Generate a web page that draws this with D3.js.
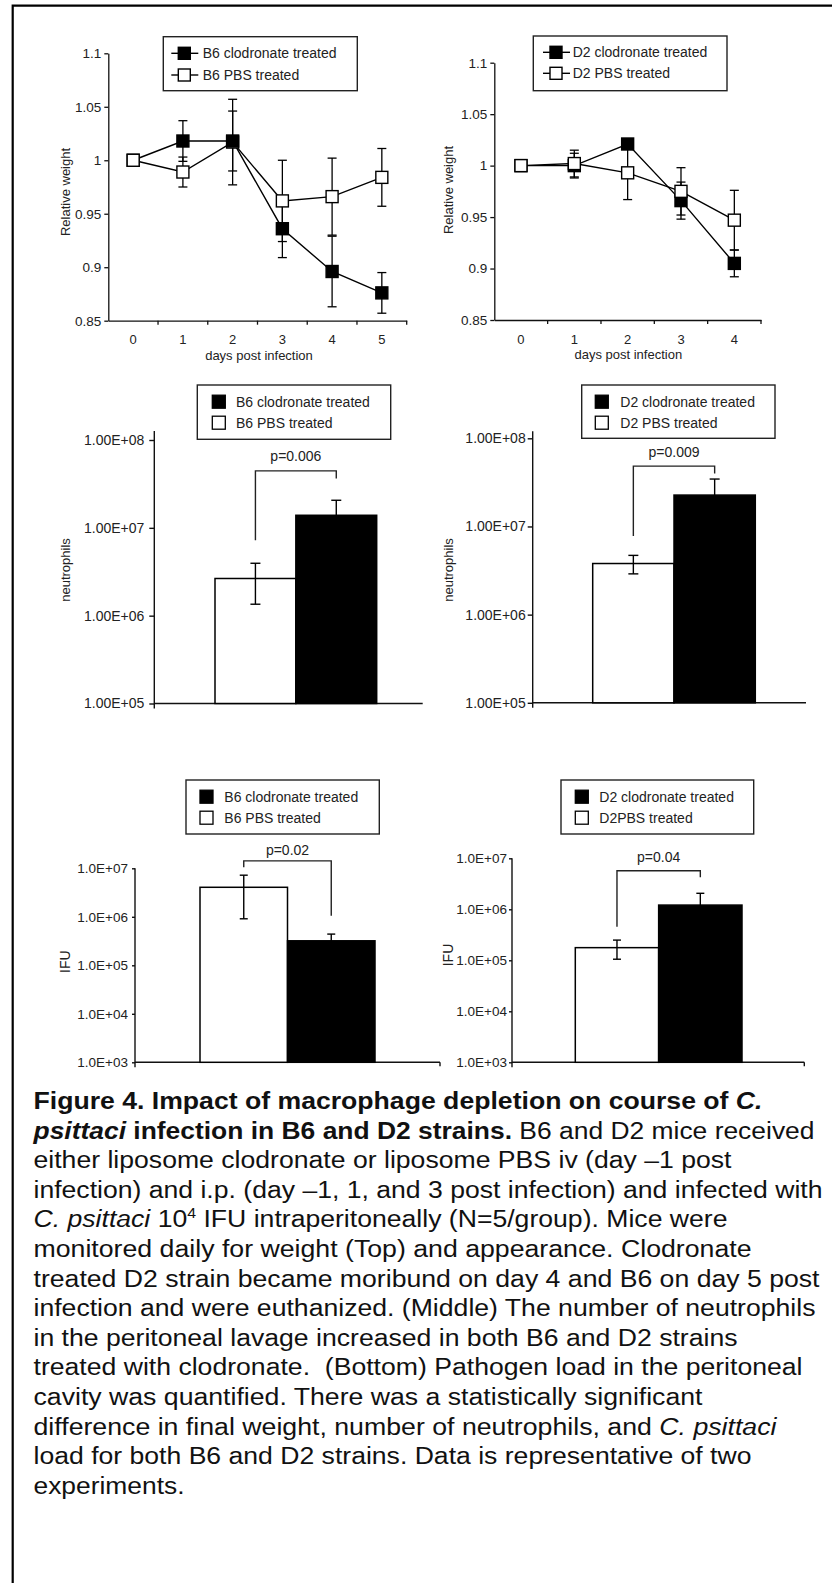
<!DOCTYPE html>
<html><head><meta charset="utf-8">
<script src="https://cdn.jsdelivr.net/npm/d3@7"></script>
<style>
html,body{margin:0;padding:0;background:#fff;}
svg{display:block;}
text{font-family:"Liberation Sans",Arial,Helvetica,sans-serif;}
</style></head><body>
<svg id="fig" width="832" height="1583"></svg>
<script>
// ---------------- DATA ----------------
const b6Days = [0, 1, 2, 3, 4, 5];
const b6ClodWeight = [1.000, 1.018, 1.018, 0.936, 0.896, 0.876];
const b6ClodErr    = [0, 0.019, 0.028, 0.027, 0.033, 0.019];
const b6PbsWeight  = [1.000, 0.989, 1.017, 0.962, 0.966, 0.984];
const b6PbsErr     = [0, 0.014, 0.040, 0.038, 0.036, 0.027];

const d2Days = [0, 1, 2, 3, 4];
const d2ClodWeight = [1.000, 1.000, 1.021, 0.966, 0.905];
const d2ClodErr    = [0, 0.012, 0.005, 0.018, 0.013];
const d2PbsWeight  = [1.000, 1.002, 0.993, 0.975, 0.947];
const d2PbsErr     = [0, 0.013, 0.026, 0.023, 0.029];

const weightTicks = [0.85, 0.9, 0.95, 1, 1.05, 1.1];
const weightTickLabels = ["0.85", "0.9", "0.95", "1", "1.05", "1.1"];

const barGroups = ["PBS", "clodronate"];
const b6Neutrophils    = [2.65e6, 1.39e7];
const b6NeutrophilsErr = [1.3e6, 0.67e7];
const d2Neutrophils    = [3.8e6, 2.27e7];
const d2NeutrophilsErr = [0.9e6, 1.18e7];
const neutTicks = [1e5, 1e6, 1e7, 1e8];
const neutTickLabels = ["1.00E+05", "1.00E+06", "1.00E+07", "1.00E+08"];

const b6IFU    = [4.06e6, 3.2e5];
const b6IFUErr = [3.15e6, 1.2e5];
const d2IFU    = [1.77e5, 1.21e6];
const d2IFUErr = [0.72e5, 0.85e6];
const ifuTicks = [1e3, 1e4, 1e5, 1e6, 1e7];
const ifuTickLabels = ["1.0E+03", "1.0E+04", "1.0E+05", "1.0E+06", "1.0E+07"];

const pValues = ["p=0.006", "p=0.009", "p=0.02", "p=0.04"];
// bracket: [top value, left-leg bottom value, right-leg bottom value]
const b6NeutBracket = [4.45e7, 7.2e6, 3.65e7];
const d2NeutBracket = [4.84e7, 7.8e6, 4.0e7];
const b6IFUBracket  = [1.42e7, 1.05e7, 1.05e6];
const d2IFUBracket  = [5.71e6, 4.56e5, 4.24e6];

const b6Legend = ["B6 clodronate treated", "B6 PBS treated"];
const d2Legend = ["D2 clodronate treated", "D2 PBS treated"];
const d2IFULegend = ["D2 clodronate treated", "D2PBS treated"];

const captionLines = [
  [["Figure 4. Impact of macrophage depletion on course of ", "b"], ["C.", "bi"]],
  [["psittaci", "bi"], [" infection in B6 and D2 strains.", "b"], [" B6 and D2 mice received", ""]],
  [["either liposome clodronate or liposome PBS iv (day \u20131 post", ""]],
  [["infection) and i.p. (day \u20131, 1, and 3 post infection) and infected with", ""]],
  [["C. psittaci", "i"], [" 10", ""], ["4", "sup"], [" IFU intraperitoneally (N=5/group). Mice were", ""]],
  [["monitored daily for weight (Top) and appearance. Clodronate", ""]],
  [["treated D2 strain became moribund on day 4 and B6 on day 5 post", ""]],
  [["infection and were euthanized. (Middle) The number of neutrophils", ""]],
  [["in the peritoneal lavage increased in both B6 and D2 strains", ""]],
  [["treated with clodronate.  (Bottom) Pathogen load in the peritoneal", ""]],
  [["cavity was quantified. There was a statistically significant", ""]],
  [["difference in final weight, number of neutrophils, and ", ""], ["C. psittaci", "i"]],
  [["load for both B6 and D2 strains. Data is representative of two", ""]],
  [["experiments.", ""]]
];
const captionWidths = [729, 781, 698, 789, 694, 718, 786, 782, 704, 769, 669, 743, 718, 151];

// ---------------- DRAW ----------------
const svg = d3.select("#fig");
const TXT = "#222";

// frame (top and left rules)
svg.append("path").attr("d", "M832,5.7H12.7V1583")
  .attr("fill", "none").attr("stroke", "#000").attr("stroke-width", 2.2);

function lineChart(cfg) {
  const g = svg.append("g");
  const x = d3.scaleBand().domain(cfg.days).range([cfg.x0, cfg.x1]);
  const cx = d => x(d) + x.bandwidth() / 2;
  const y = d3.scaleLinear().domain([0.85, 1.1]).range([cfg.yBot, cfg.yTop]);

  const ya = g.append("g").attr("transform", `translate(${cfg.x0},0)`)
    .call(d3.axisLeft(y).tickValues(weightTicks)
      .tickFormat((d, i) => weightTickLabels[i]).tickSize(4).tickSizeOuter(0).tickPadding(3));
  ya.select(".domain").attr("stroke", "#111").attr("stroke-width", 1.3);
  ya.selectAll(".tick line").attr("stroke", "#111").attr("stroke-width", 1.3);
  ya.selectAll("text").attr("font-size", 13.5).attr("fill", TXT)
    .attr("font-family", '"Liberation Sans",Arial,sans-serif');

  const xa = g.append("g").attr("transform", `translate(0,${cfg.yBot})`)
    .call(d3.axisBottom(x).tickSize(0).tickSizeOuter(0).tickPadding(cfg.xPad));
  xa.select(".domain").attr("stroke", "#111").attr("stroke-width", 1.3);
  xa.selectAll("text").attr("font-size", 13).attr("fill", TXT)
    .attr("font-family", '"Liberation Sans",Arial,sans-serif');
  g.selectAll(".bt").data(cfg.days).join("line")
    .attr("x1", d => x(d) + x.bandwidth()).attr("x2", d => x(d) + x.bandwidth())
    .attr("y1", cfg.yBot).attr("y2", cfg.yBot + 4)
    .attr("stroke", "#111").attr("stroke-width", 1.3);

  g.append("text").attr("x", cfg.xTitle[0]).attr("y", cfg.xTitle[1])
    .attr("text-anchor", "middle").attr("font-size", 13).attr("fill", TXT)
    .text("days post infection");
  g.append("text").attr("transform", `translate(${cfg.yTitle[0]},${cfg.yTitle[1]}) rotate(-90)`)
    .attr("text-anchor", "middle").attr("dominant-baseline", "central")
    .attr("font-size", 13).attr("fill", TXT).text("Relative weight");

  const series = [
    { vals: cfg.clod, errs: cfg.clodErr, fill: "#000" },
    { vals: cfg.pbs, errs: cfg.pbsErr, fill: "#fff" }
  ];
  const line = d3.line().x((d, i) => cx(cfg.days[i])).y(d => y(d));
  series.forEach(s => {
    g.append("path").attr("d", line(s.vals)).attr("fill", "none")
      .attr("stroke", "#000").attr("stroke-width", 1.4);
  });
  series.forEach(s => {
    cfg.days.forEach((d, i) => {
      if (!s.errs[i]) return;
      const xx = cx(d), y1 = y(s.vals[i] - s.errs[i]), y2 = y(s.vals[i] + s.errs[i]);
      g.append("line").attr("x1", xx).attr("x2", xx).attr("y1", y1).attr("y2", y2)
        .attr("stroke", "#000").attr("stroke-width", 1.3);
      [y1, y2].forEach(yy => g.append("line").attr("x1", xx - 4.5).attr("x2", xx + 4.5)
        .attr("y1", yy).attr("y2", yy).attr("stroke", "#000").attr("stroke-width", 1.3));
    });
  });
  const ms = 12;
  cfg.days.forEach((d, i) => {
    const order = series[0].vals[i] > series[1].vals[i] ? [1, 0] : [0, 1];
    order.forEach(k => {
      const s = series[k];
      g.append("rect").attr("x", cx(d) - ms / 2).attr("y", y(s.vals[i]) - ms / 2)
        .attr("width", ms).attr("height", ms).attr("fill", s.fill)
        .attr("stroke", "#000").attr("stroke-width", 1.4);
    });
  });

  const L = cfg.legend;
  g.append("rect").attr("x", L.left).attr("y", L.top).attr("width", L.right - L.left)
    .attr("height", L.bottom - L.top).attr("fill", "#fff").attr("stroke", "#222").attr("stroke-width", 1.4);
  cfg.legendLabels.forEach((lab, i) => {
    const ry = L.rows[i];
    g.append("line").attr("x1", L.mx - 13).attr("x2", L.mx + 14).attr("y1", ry).attr("y2", ry)
      .attr("stroke", "#000").attr("stroke-width", 1.4);
    g.append("rect").attr("x", L.mx - ms / 2).attr("y", ry - ms / 2).attr("width", ms).attr("height", ms)
      .attr("fill", i === 0 ? "#000" : "#fff").attr("stroke", "#000").attr("stroke-width", 1.4);
    g.append("text").attr("x", L.tx).attr("y", ry + 5).attr("font-size", 14).attr("fill", TXT).text(lab);
  });
}

function barChart(cfg) {
  const g = svg.append("g");
  const y = d3.scaleLog().domain(cfg.domain).range([cfg.yMin, cfg.yMax]);
  const xb = d3.scaleBand().domain(barGroups).range(cfg.bars).paddingInner(0).paddingOuter(0);
  const bc = d => xb(d) + xb.bandwidth() / 2;

  const ya = g.append("g").attr("transform", `translate(${cfg.axisX},0)`)
    .call(d3.axisLeft(y).tickValues(cfg.ticks).tickFormat((d, i) => cfg.tickLabels[i])
      .tickSize(cfg.tickSize).tickSizeOuter(0).tickPadding(cfg.tickPad));
  ya.select(".domain").remove();
  ya.selectAll(".tick line").attr("stroke", "#111").attr("stroke-width", 1.4);
  ya.selectAll("text").attr("font-size", cfg.fs).attr("fill", TXT)
    .attr("font-family", '"Liberation Sans",Arial,sans-serif');
  g.append("line").attr("x1", cfg.axisX).attr("x2", cfg.axisX)
    .attr("y1", cfg.yMax - cfg.topExt).attr("y2", cfg.yMin + 5)
    .attr("stroke", "#111").attr("stroke-width", 1.4);
  g.append("line").attr("x1", cfg.axisX).attr("x2", cfg.xEnd)
    .attr("y1", cfg.yMin).attr("y2", cfg.yMin).attr("stroke", "#111").attr("stroke-width", 1.4);
  if (cfg.endTick) {
    g.append("line").attr("x1", cfg.xEnd).attr("x2", cfg.xEnd)
      .attr("y1", cfg.yMin).attr("y2", cfg.yMin + 4).attr("stroke", "#111").attr("stroke-width", 1.4);
  }

  g.selectAll(".bar").data(barGroups).join("rect")
    .attr("x", d => xb(d)).attr("width", xb.bandwidth())
    .attr("y", (d, i) => y(cfg.vals[i]))
    .attr("height", (d, i) => y(cfg.domain[0]) - y(cfg.vals[i]))
    .attr("fill", (d, i) => i === 0 ? "#fff" : "#000")
    .attr("stroke", "#000").attr("stroke-width", 1.5);

  barGroups.forEach((d, i) => {
    const xx = bc(d), y1 = y(cfg.vals[i] - cfg.errs[i]), y2 = y(cfg.vals[i] + cfg.errs[i]);
    g.append("line").attr("x1", xx).attr("x2", xx).attr("y1", y1).attr("y2", y2)
      .attr("stroke", "#000").attr("stroke-width", 1.4);
    [y1, y2].forEach(yy => g.append("line").attr("x1", xx - cfg.cap).attr("x2", xx + cfg.cap)
      .attr("y1", yy).attr("y2", yy).attr("stroke", "#000").attr("stroke-width", 1.4));
  });

  const [bt, bl, br] = cfg.bracket;
  const xl = bc(barGroups[0]), xr = bc(barGroups[1]);
  g.append("path").attr("d", `M${xl},${y(bl)}V${y(bt)}H${xr}V${y(br)}`)
    .attr("fill", "none").attr("stroke", "#222").attr("stroke-width", 1.4);
  g.append("text").attr("x", (xl + xr) / 2).attr("y", y(bt) - cfg.pGap)
    .attr("text-anchor", "middle").attr("font-size", 14).attr("fill", TXT).text(cfg.p);

  g.append("text").attr("transform", `translate(${cfg.yTitle[0]},${cfg.yTitle[1]}) rotate(-90)`)
    .attr("text-anchor", "middle").attr("dominant-baseline", "central")
    .attr("font-size", cfg.titleFs).attr("fill", TXT).text(cfg.title);

  const L = cfg.legend;
  g.append("rect").attr("x", L.left).attr("y", L.top).attr("width", L.right - L.left)
    .attr("height", L.bottom - L.top).attr("fill", "#fff").attr("stroke", "#222").attr("stroke-width", 1.4);
  cfg.legendLabels.forEach((lab, i) => {
    const ry = L.rows[i];
    g.append("rect").attr("x", L.sx).attr("y", ry - 6.5).attr("width", 13).attr("height", 13)
      .attr("fill", i === 0 ? "#000" : "#fff").attr("stroke", "#000").attr("stroke-width", 1.3);
    g.append("text").attr("x", L.tx).attr("y", ry + 5).attr("font-size", 14).attr("fill", TXT).text(lab);
  });
}

lineChart({
  days: b6Days, clod: b6ClodWeight, clodErr: b6ClodErr, pbs: b6PbsWeight, pbsErr: b6PbsErr,
  x0: 108.3, x1: 406.7, yTop: 53.3, yBot: 320.7, xPad: 13.6,
  xTitle: [259, 360], yTitle: [65, 192],
  legend: { left: 163.3, top: 36.7, right: 357.3, bottom: 90.7, mx: 184.3, tx: 202.7, rows: [53.3, 75] },
  legendLabels: b6Legend
});
lineChart({
  days: d2Days, clod: d2ClodWeight, clodErr: d2ClodErr, pbs: d2PbsWeight, pbsErr: d2PbsErr,
  x0: 494.3, x1: 761, yTop: 62.7, yBot: 320, xPad: 14.3,
  xTitle: [628.3, 358.5], yTitle: [448.3, 190],
  legend: { left: 533.3, top: 36, right: 727, bottom: 90.7, mx: 556, tx: 572.7, rows: [52.3, 73.3] },
  legendLabels: d2Legend
});

barChart({
  domain: [1e5, 1e8], yMin: 703.5, yMax: 440, axisX: 154.3, xEnd: 422.7, topExt: 9, endTick: false,
  ticks: neutTicks, tickLabels: neutTickLabels, tickSize: 5, tickPad: 5, fs: 14,
  bars: [215, 376.7], vals: b6Neutrophils, errs: b6NeutrophilsErr, cap: 5,
  bracket: b6NeutBracket, p: pValues[0], pGap: 10,
  title: "neutrophils", titleFs: 13, yTitle: [65, 570],
  legend: { left: 197.3, top: 385, right: 390.7, bottom: 439.3, sx: 212.3, tx: 236, rows: [401.7, 422.7] },
  legendLabels: b6Legend
});
barChart({
  domain: [1e5, 1e8], yMin: 702.8, yMax: 438.3, axisX: 532.7, xEnd: 806, topExt: 7, endTick: false,
  ticks: neutTicks, tickLabels: neutTickLabels, tickSize: 5, tickPad: 2, fs: 14,
  bars: [592.7, 755.3], vals: d2Neutrophils, errs: d2NeutrophilsErr, cap: 5,
  bracket: d2NeutBracket, p: pValues[1], pGap: 9,
  title: "neutrophils", titleFs: 13, yTitle: [448.3, 570],
  legend: { left: 581.7, top: 385, right: 775, bottom: 438.3, sx: 595.3, tx: 620.3, rows: [401.7, 422.7] },
  legendLabels: d2Legend
});
barChart({
  domain: [1e3, 1e7], yMin: 1062.3, yMax: 868.3, axisX: 135, xEnd: 440, topExt: 0, endTick: true,
  ticks: ifuTicks, tickLabels: ifuTickLabels, tickSize: 3, tickPad: 4, fs: 13.5,
  bars: [200, 375], vals: b6IFU, errs: b6IFUErr, cap: 4,
  bracket: b6IFUBracket, p: pValues[2], pGap: 6,
  title: "IFU", titleFs: 14, yTitle: [65, 961.7],
  legend: { left: 186, top: 780, right: 379.3, bottom: 834, sx: 200, tx: 224.3, rows: [796.7, 817.7] },
  legendLabels: b6Legend
});
barChart({
  domain: [1e3, 1e7], yMin: 1062.3, yMax: 858.3, axisX: 512, xEnd: 804.3, topExt: 0, endTick: true,
  ticks: ifuTicks, tickLabels: ifuTickLabels, tickSize: 3, tickPad: 2, fs: 13.5,
  bars: [575.3, 742], vals: d2IFU, errs: d2IFUErr, cap: 4,
  bracket: d2IFUBracket, p: pValues[3], pGap: 9,
  title: "IFU", titleFs: 14, yTitle: [448.3, 955],
  legend: { left: 561, top: 780, right: 753.7, bottom: 834, sx: 575.3, tx: 599.3, rows: [796.7, 817.7] },
  legendLabels: d2IFULegend
});

// caption
const cap = svg.append("g");
captionLines.forEach((segs, i) => {
  const t = cap.append("text").attr("x", 33.5).attr("y", 1109 + 29.6 * i)
    .attr("font-size", 23.5).attr("fill", "#111").style("white-space", "pre");
  let after = false;
  segs.forEach(([s, st]) => {
    const ts = t.append("tspan").text(s);
    if (st === "sup") { ts.attr("font-size", 14).attr("dy", -9); after = true; return; }
    if (after) { ts.attr("dy", 9); after = false; }
    if (st.includes("b")) ts.attr("font-weight", "bold");
    if (st.includes("i")) ts.attr("font-style", "italic");
  });
  t.attr("textLength", captionWidths[i]).attr("lengthAdjust", "spacingAndGlyphs");
});
</script>
</body></html>
